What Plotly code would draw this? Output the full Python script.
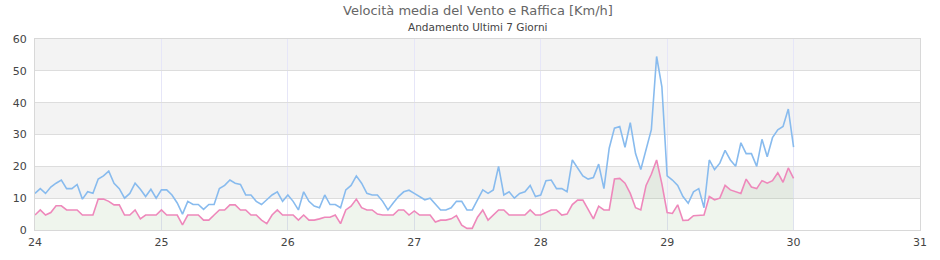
import plotly.graph_objects as go

# Hourly values, one list per day (24 = first day), km/h
raffica_24 = [11.5,13,11.5,13.5,14.7,15.7,13,13,14.3,9.7,12,11.5,16,17,18.5,14.7,13,10,11.5,14.7,12.8,10.5,12.8,10]
raffica_25 = [12.6,12.6,11,8.5,5,9,8,8,6.5,8,8,13,14,15.7,14.7,14.3,11,11,9,8,9.5,11,12,9]
raffica_26 = [11,9,6.3,12,9,7.5,7,11,8,8,7,12.6,14,17,14.7,11.5,11,11,9,6.3,8.5,10.5,12,12.5]
raffica_27 = [11.5,10.5,9.5,10,8,6.3,6.3,7,9,9,6.3,6.3,9.5,12.6,11.5,12.6,20,11,12,10,11.5,12,14,10.5]
raffica_28 = [11,15.5,15.7,13,13,12,22,19.5,17,16,16.5,20.7,13,25.7,32,32.5,26,33.7,24,19,25,31.5,54.5,45]
raffica_29 = [17,15.7,14,10.5,8.4,12,13,7,22,19,21,25,22,20,27.4,24,24,20,28.5,23,29,31.5,32.5,38]
raffica_30 = [26]

media_24 = [4.7,6.3,4.7,5.5,7.6,7.6,6.3,6.3,6.3,4.7,4.7,4.7,9.7,9.7,9,7.9,7.9,4.7,4.7,6.3,3.5,4.7,4.7,4.7]
media_25 = [6.3,4.7,4.7,4.7,1.6,4.7,4.7,4.7,3.1,3.1,4.7,6.3,6.3,7.9,7.9,6.3,6.3,4.7,4.7,3.1,2,4.7,6.3,4.7]
media_26 = [4.7,4.7,3.1,4.7,3.1,3.1,3.5,4,4,4.7,2,6.3,7.5,9.7,7,6.3,6.3,5,4.7,4.7,4.7,6.3,6.3,4.7]
media_27 = [6,4.7,4.7,4.7,2.5,3.1,3.1,3.5,4.5,1.5,0.5,0.5,4,6.3,3.1,4.7,6.3,6.3,4.7,4.7,4.7,4.7,6.3,4.7]
media_28 = [4.7,5.5,6.3,6.3,4.7,5,8,9.4,9.4,6.5,3.5,7.5,6.3,6.3,16,16.2,14.7,11.5,7,6.3,14,17.5,22,14.5]
media_29 = [5.5,5.2,7.9,3,3.1,4.5,4.7,4.7,10.5,9.5,10,14,12.6,12,11.5,16,13.5,13,15.5,14.7,15.5,18,15,19.5]
media_30 = [16.2]

start_day = 24
x_ticks = [24, 25, 26, 27, 28, 29, 30, 31]
y_ticks = [0, 10, 20, 30, 40, 50, 60]

raffica = raffica_24 + raffica_25 + raffica_26 + raffica_27 + raffica_28 + raffica_29 + raffica_30
media = media_24 + media_25 + media_26 + media_27 + media_28 + media_29 + media_30
x = [start_day + i / 24 for i in range(len(raffica))]

font = "DejaVu Sans, Verdana, sans-serif"
fig = go.Figure()
fig.add_trace(go.Scatter(x=x, y=media, mode="lines", name="Velocità media",
                         line=dict(color="#ee88bb", width=1.6),
                         fill="tozeroy", fillcolor="rgba(110,160,90,0.11)",
                         hoverinfo="skip"))
fig.add_trace(go.Scatter(x=x, y=raffica, mode="lines", name="Raffica",
                         line=dict(color="#88bbee", width=1.6),
                         hoverinfo="skip"))

for y0 in (10, 30, 50):
    fig.add_shape(type="rect", xref="paper", yref="y", x0=0, x1=1, y0=y0, y1=y0 + 10,
                  fillcolor="#f3f3f3", line_width=0, layer="below")

fig.update_layout(
    width=940, height=260,
    margin=dict(l=35, r=20, t=39, b=30),
    paper_bgcolor="white", plot_bgcolor="white",
    showlegend=False,
    font=dict(family=font, size=11, color="#555"),
    annotations=[
        dict(text="Velocità media del Vento e Raffica [Km/h]", xref="paper", yref="paper",
             x=0.5, y=1, yshift=29, xanchor="center", yanchor="middle", showarrow=False,
             font=dict(family=font, size=13, color="#666")),
        dict(text="Andamento Ultimi 7 Giorni", xref="paper", yref="paper",
             x=0.5, y=1, yshift=12, xanchor="center", yanchor="middle", showarrow=False,
             font=dict(family=font, size=10.5, color="#444")),
    ],
)
fig.update_xaxes(range=[24, 31], tickvals=x_ticks, ticktext=[str(t) for t in x_ticks],
                 showgrid=True, gridcolor="#e6e6f8", gridwidth=1,
                 showline=True, linecolor="#d8d8d8", linewidth=1, mirror=True,
                 zeroline=False, ticks="", ticklabelstandoff=2,
                 tickfont=dict(size=11, color="#444"))
fig.update_yaxes(range=[0, 60], tickvals=y_ticks,
                 showgrid=True, gridcolor="#dddddd", gridwidth=1,
                 showline=True, linecolor="#d8d8d8", linewidth=1, mirror=True,
                 zeroline=False, ticks="", ticklabelstandoff=5,
                 tickfont=dict(size=11, color="#444"))

fig.write_html("out.html")
